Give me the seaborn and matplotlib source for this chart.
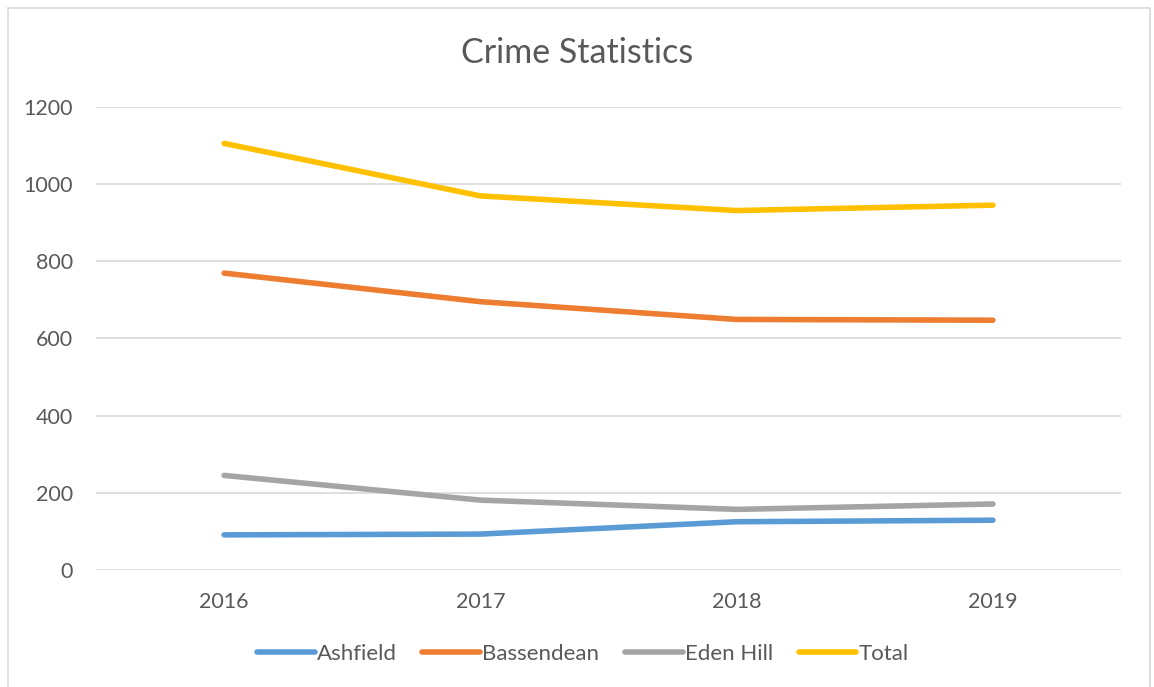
import matplotlib
matplotlib.use("Agg")
import matplotlib.pyplot as plt
import seaborn as sns
import pandas as pd
from matplotlib.patches import Rectangle
from matplotlib.lines import Line2D

years = ["2016", "2017", "2018", "2019"]
ashfield = [91, 93, 125, 129]
bassendean = [769, 695, 649, 647]
eden_hill = [245, 181, 157, 171]
total = [1105, 969, 931, 945]
series_names = ["Ashfield", "Bassendean", "Eden Hill", "Total"]
colors = ["#5B9BD5", "#ED7D31", "#A5A5A5", "#FFC000"]
y_ticks = [0, 200, 400, 600, 800, 1000, 1200]

df = pd.DataFrame({
    "Year": years * 4,
    "Series": [n for n in series_names for _ in years],
    "Value": ashfield + bassendean + eden_hill + total,
})

sns.set_theme(style="white")
plt.rcParams["font.family"] = ["Lato", "DejaVu Sans"]

W, H = 1154, 687
fig = plt.figure(figsize=(W / 100, H / 100), dpi=100)
fig.patches.append(Rectangle((8 / W, -0.01), (1150 - 8) / W, 1 - 8 / H + 0.01,
                             transform=fig.transFigure, fill=False,
                             edgecolor="#D9D9D9", linewidth=1.2))

ax = fig.add_axes([96 / W, (H - 570) / H, 1025 / W, (570 - 106.7) / H])
sns.lineplot(data=df, x="Year", y="Value", hue="Series", palette=colors,
             linewidth=4, ax=ax, sort=False, legend=False)
for line in ax.lines:
    line.set_solid_capstyle("round")

ax.set_xlim(-0.5, 3.5)
ax.set_ylim(0, 1200)
ax.set_yticks(y_ticks)
ax.set_yticklabels([str(t) for t in y_ticks])
ax.grid(axis="y", color="#D9D9D9", linewidth=1.2)
ax.set_axisbelow(True)
for s in ax.spines.values():
    s.set_visible(False)
ax.tick_params(axis="both", length=0, labelsize=15.5, colors="#595959")
ax.tick_params(axis="y", pad=16.5)
ax.tick_params(axis="x", pad=16)
ax.set_xlabel("")
ax.set_ylabel("")

fig.text(0.5, 1 - 53 / H, "Crime Statistics", ha="center", va="center",
         fontsize=24.5, color="#595959")

handles = [Line2D([0], [0], color=c, linewidth=4, solid_capstyle="round")
           for c in colors]
leg = fig.legend(handles, series_names, loc="center",
                 bbox_to_anchor=(0.505, 1 - 654 / H), ncol=4, frameon=False,
                 fontsize=16, handlelength=2.6, handletextpad=0.1,
                 columnspacing=1.15)
for t in leg.get_texts():
    t.set_color("#595959")

fig.savefig("out.png", dpi=100, facecolor="white")
